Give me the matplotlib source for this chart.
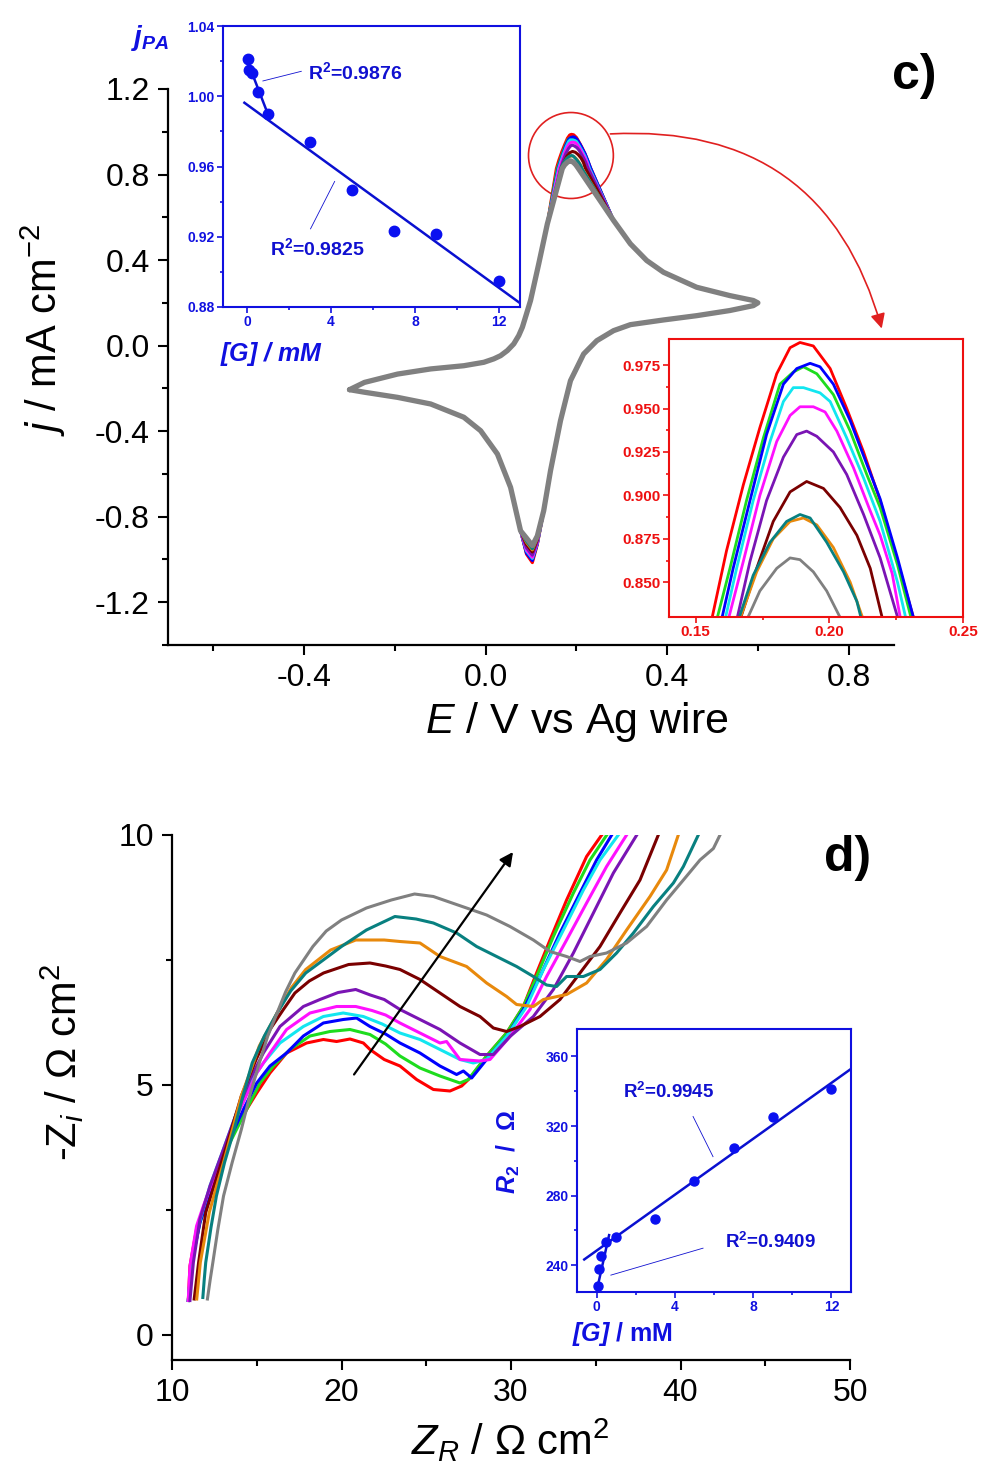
import matplotlib
matplotlib.use("Agg")
import matplotlib.pyplot as plt
from matplotlib.patches import Ellipse
from matplotlib.ticker import MultipleLocator, FormatStrFormatter

plt.rcParams['font.family'] = ['Liberation Sans', 'DejaVu Sans']
plt.rcParams['mathtext.fontset'] = 'custom'
plt.rcParams['mathtext.rm'] = 'Liberation Sans'
plt.rcParams['mathtext.it'] = 'Liberation Sans:italic'
plt.rcParams['mathtext.bf'] = 'Liberation Sans:bold'
plt.rcParams['mathtext.sf'] = 'Liberation Sans:bold:italic'
plt.rcParams['axes.unicode_minus'] = False

# ---------------- data ----------------
colors = ['#ff0000', '#1edc1e', '#0000ff', '#12e6f0', '#ff10ff',
          '#7a14b4', '#7a0000', '#e8890c', '#088080', '#808080']
conc = [0.05, 0.1, 0.25, 0.5, 1, 3, 5, 7, 9, 12]          # [G] / mM

# jPA inset
jpa = [1.021, 1.0149, 1.0134, 1.0026, 0.9898, 0.9737, 0.9465, 0.9232, 0.9214, 0.8948]
jpa_fit1_G = [-0.13, 12.99]
jpa_fit1_j = [0.9963, 0.8823]
jpa_fit2_G = [0.03, 1.0]
jpa_fit2_j = [1.0195, 0.9895]

# R2 inset
r2 = [227.9, 238.1, 245.2, 253.4, 256.1, 266.5, 288.6, 307.6, 325.3, 341.2]
r2_fit1_G = [-0.63, 12.98]
r2_fit1_R = [243.3, 352.7]
r2_fit2_G = [0.05, 0.64]
r2_fit2_R = [227.5, 257.3]

# CV, shared parts of the loop
cv_start_E = [-0.300, -0.267, -0.194, -0.121, -0.048, -0.004, 0.018, 0.033, 0.048, 0.062, 0.073, 0.081,
              0.090, 0.099, 0.117, 0.136]
cv_start_j = [-0.206, -0.172, -0.133, -0.109, -0.094, -0.078, -0.062, -0.047, -0.023, 0.008, 0.047, 0.086,
              0.148, 0.211, 0.382, 0.569]
cv_tail_E = [0.282, 0.319, 0.355, 0.392, 0.465, 0.538, 0.590, 0.600,
             0.590, 0.538, 0.465, 0.392, 0.319, 0.282, 0.245, 0.216, 0.187, 0.165, 0.143, 0.128]
cv_tail_j = [0.585, 0.476, 0.398, 0.343, 0.273, 0.234, 0.211, 0.200,
             0.187, 0.164, 0.140, 0.120, 0.098, 0.070, 0.023, -0.039, -0.164, -0.351, -0.585, -0.772]
cv_back_E = [0.077, 0.055, 0.026, -0.011, -0.048, -0.121, -0.194, -0.267, -0.300]
cv_back_j = [-0.866, -0.663, -0.507, -0.398, -0.335, -0.273, -0.242, -0.218, -0.206]

# CV anodic peak, one list per curve
peak_E = [
    [0.1559, 0.1615, 0.1678, 0.1740, 0.1803, 0.1853, 0.1890, 0.1940, 0.2003, 0.2065, 0.2128, 0.2190, 0.2255, 0.2314],
    [0.1578, 0.1628, 0.1690, 0.1753, 0.1815, 0.1865, 0.1903, 0.1953, 0.2015, 0.2078, 0.2140, 0.2190, 0.2255, 0.2305],
    [0.1596, 0.1640, 0.1703, 0.1765, 0.1828, 0.1878, 0.1928, 0.1965, 0.2015, 0.2078, 0.2140, 0.2190, 0.2255, 0.2314],
    [0.1609, 0.1653, 0.1715, 0.1778, 0.1828, 0.1865, 0.1903, 0.1965, 0.2003, 0.2065, 0.2128, 0.2190, 0.2255, 0.2285],
    [0.1621, 0.1678, 0.1740, 0.1803, 0.1853, 0.1890, 0.1940, 0.1984, 0.2028, 0.2090, 0.2153, 0.2190, 0.2235, 0.2265],
    [0.1653, 0.1703, 0.1765, 0.1828, 0.1878, 0.1915, 0.1953, 0.2015, 0.2065, 0.2128, 0.2190, 0.2255],
    [0.1665, 0.1728, 0.1790, 0.1853, 0.1915, 0.1978, 0.2040, 0.2103, 0.2153, 0.2197],
    [0.1663, 0.1728, 0.1790, 0.1853, 0.1903, 0.1953, 0.2015, 0.2078, 0.2128],
    [0.1659, 0.1715, 0.1778, 0.1840, 0.1890, 0.1928, 0.1990, 0.2053, 0.2103, 0.2121],
    [0.1690, 0.1740, 0.1803, 0.1853, 0.1890, 0.1940, 0.1990, 0.2046],
]
peak_j = [
    [0.828, 0.868, 0.906, 0.939, 0.970, 0.985, 0.988, 0.986, 0.973, 0.950, 0.925, 0.897, 0.862, 0.830],
    [0.828, 0.858, 0.897, 0.933, 0.964, 0.971, 0.974, 0.970, 0.958, 0.937, 0.912, 0.893, 0.860, 0.830],
    [0.828, 0.858, 0.897, 0.935, 0.964, 0.973, 0.976, 0.974, 0.964, 0.943, 0.918, 0.898, 0.864, 0.830],
    [0.828, 0.858, 0.897, 0.931, 0.954, 0.962, 0.962, 0.959, 0.954, 0.933, 0.910, 0.885, 0.850, 0.830],
    [0.828, 0.862, 0.900, 0.931, 0.946, 0.951, 0.951, 0.948, 0.937, 0.916, 0.891, 0.877, 0.855, 0.830],
    [0.828, 0.862, 0.897, 0.922, 0.935, 0.937, 0.934, 0.925, 0.912, 0.889, 0.864, 0.830],
    [0.828, 0.858, 0.885, 0.902, 0.908, 0.904, 0.893, 0.877, 0.858, 0.830],
    [0.828, 0.856, 0.875, 0.885, 0.887, 0.883, 0.870, 0.850, 0.828],
    [0.828, 0.854, 0.873, 0.885, 0.889, 0.887, 0.873, 0.856, 0.839, 0.828],
    [0.828, 0.845, 0.858, 0.864, 0.863, 0.856, 0.845, 0.828],
]
# CV cathodic peak, values at E = 0.114, 0.103, 0.090
cath_E = [0.114, 0.103, 0.090]
cath_j = [
    [-0.930, -1.015, -0.975],
    [-0.925, -1.000, -0.965],
    [-0.925, -1.005, -0.970],
    [-0.920, -0.995, -0.960],
    [-0.920, -0.990, -0.955],
    [-0.915, -0.980, -0.945],
    [-0.905, -0.965, -0.930],
    [-0.900, -0.955, -0.920],
    [-0.895, -0.950, -0.915],
    [-0.890, -0.935, -0.900],
]

# EIS (Nyquist), one list per curve
eis_Z = [
    [10.96, 11.06, 11.45, 12.04, 12.83, 13.62, 14.40, 15.00, 15.78, 16.76, 17.94, 18.93, 19.71, 20.50, 21.29, 21.68,
     22.52, 23.45, 24.43, 25.42, 26.40, 27.09, 27.58, 28.56, 29.74, 30.73, 31.51, 32.30, 33.28, 34.46, 35.35],
    [10.96, 11.16, 11.65, 12.44, 13.42, 14.40, 15.19, 15.98, 16.96, 18.14, 19.32, 20.50, 21.68, 22.60, 23.45, 24.63,
     25.81, 26.99, 27.48, 28.56, 29.74, 30.73, 31.51, 32.50, 33.68, 34.66, 35.65],
    [10.96, 11.16, 11.65, 12.44, 13.22, 14.21, 15.00, 15.78, 16.76, 17.75, 18.93, 20.10, 20.89, 21.68, 22.60, 23.45,
     24.63, 25.81, 26.79, 27.19, 27.68, 28.56, 29.74, 30.73, 31.71, 32.89, 34.07, 35.05, 35.94],
    [10.96, 11.16, 11.55, 12.24, 13.03, 13.81, 14.60, 15.39, 16.37, 17.75, 18.93, 20.10, 21.29, 22.40, 23.45, 24.63,
     25.81, 26.99, 27.78, 28.56, 29.74, 30.92, 31.91, 33.09, 34.27, 35.25, 36.33],
    [10.96, 11.06, 11.45, 11.85, 12.44, 13.22, 14.01, 15.00, 15.78, 16.76, 18.14, 19.71, 20.84, 21.80, 22.60, 23.45,
     24.63, 25.81, 26.20, 26.99, 28.17, 28.76, 29.94, 31.12, 32.10, 33.28, 34.46, 35.64, 36.82],
    [11.06, 11.26, 11.65, 12.24, 13.03, 13.81, 14.60, 15.39, 16.37, 17.75, 18.73, 19.80, 20.84, 21.70, 22.52, 23.45,
     24.63, 25.81, 26.99, 28.17, 28.96, 29.94, 31.32, 32.50, 33.68, 34.86, 36.04, 37.42],
    [11.31, 11.57, 11.99, 12.63, 13.22, 14.09, 14.95, 15.78, 16.55, 17.25, 18.10, 18.94, 20.42, 21.68, 22.60, 23.45,
     24.63, 25.81, 26.99, 28.17, 28.96, 29.74, 30.53, 31.71, 32.89, 34.07, 35.25, 36.43, 37.61, 38.69],
    [11.46, 11.67, 12.20, 12.63, 13.04, 13.60, 14.09, 14.65, 15.15, 16.20, 17.05, 17.89, 19.36, 20.84, 22.52, 23.45,
     24.63, 25.81, 27.38, 28.56, 29.74, 30.33, 31.32, 31.91, 33.28, 34.46, 35.64, 36.82, 38.20, 39.18, 39.87],
    [11.82, 11.90, 11.99, 12.30, 12.62, 13.10, 13.67, 14.20, 14.73, 15.45, 16.20, 17.00, 17.89, 20.00, 21.47, 23.15,
     24.40, 25.42, 26.79, 27.97, 29.15, 30.33, 31.32, 32.10, 32.69, 33.28, 34.27, 35.25, 36.23, 37.22, 38.40, 39.58,
     40.17, 41.05],
    [12.09, 12.25, 12.41, 12.70, 13.04, 13.55, 14.09, 14.60, 15.15, 15.65, 16.20, 16.70, 17.25, 18.31, 19.10, 20.00,
     21.47, 22.94, 24.31, 25.42, 27.38, 28.56, 29.94, 31.32, 32.30, 33.28, 34.07, 34.66, 35.64, 36.82, 38.00, 39.18,
     40.17, 41.15, 41.94, 42.33],
]
eis_Zi = [
    [0.69, 1.38, 2.12, 2.71, 3.51, 4.05, 4.51, 4.84, 5.24, 5.64, 5.84, 5.91, 5.87, 5.92, 5.84, 5.71,
     5.51, 5.38, 5.11, 4.91, 4.88, 4.98, 5.14, 5.58, 6.04, 6.57, 7.24, 7.90, 8.70, 9.57, 10.0],
    [0.69, 1.45, 2.25, 3.05, 3.85, 4.51, 5.04, 5.38, 5.71, 5.98, 6.07, 6.11, 6.01, 5.82, 5.58, 5.34,
     5.18, 5.04, 5.11, 5.58, 6.04, 6.57, 7.17, 7.97, 8.84, 9.50, 10.0],
    [0.69, 1.45, 2.25, 3.05, 3.78, 4.51, 5.04, 5.38, 5.64, 5.98, 6.24, 6.31, 6.34, 6.17, 6.02, 5.84,
     5.64, 5.38, 5.21, 5.28, 5.14, 5.51, 5.97, 6.51, 7.17, 8.04, 8.84, 9.50, 10.0],
    [0.69, 1.45, 2.18, 2.98, 3.71, 4.44, 5.04, 5.44, 5.84, 6.17, 6.37, 6.44, 6.37, 6.22, 6.04, 5.91,
     5.71, 5.51, 5.44, 5.51, 5.97, 6.57, 7.31, 8.10, 8.90, 9.50, 10.0],
    [0.69, 1.38, 2.18, 2.58, 3.11, 3.85, 4.51, 5.24, 5.64, 6.11, 6.44, 6.57, 6.57, 6.49, 6.40, 6.24,
     6.04, 5.84, 5.87, 5.51, 5.48, 5.51, 5.97, 6.51, 7.17, 7.90, 8.64, 9.37, 10.0],
    [0.69, 1.45, 2.32, 2.98, 3.71, 4.44, 5.11, 5.64, 6.17, 6.57, 6.71, 6.85, 6.91, 6.80, 6.71, 6.51,
     6.31, 6.11, 5.84, 5.61, 5.61, 5.97, 6.37, 6.91, 7.64, 8.44, 9.24, 10.0],
    [0.72, 1.45, 2.45, 3.15, 3.78, 4.78, 5.50, 6.11, 6.50, 6.84, 7.08, 7.24, 7.41, 7.44, 7.38, 7.31,
     7.11, 6.84, 6.57, 6.37, 6.14, 6.07, 6.17, 6.37, 6.71, 7.24, 7.77, 8.44, 9.10, 10.0],
    [0.72, 1.45, 2.45, 2.98, 3.45, 4.15, 4.78, 5.30, 5.78, 6.44, 6.95, 7.31, 7.70, 7.90, 7.90, 7.87,
     7.84, 7.57, 7.37, 7.04, 6.77, 6.61, 6.57, 6.71, 6.81, 7.04, 7.51, 8.10, 8.77, 9.30, 10.0],
    [0.75, 1.10, 1.45, 2.15, 2.78, 3.45, 4.11, 4.80, 5.44, 5.98, 6.44, 6.88, 7.24, 7.77, 8.10, 8.37,
     8.32, 8.24, 8.04, 7.77, 7.57, 7.37, 7.17, 7.00, 6.97, 7.17, 7.17, 7.31, 7.64, 8.04, 8.57, 9.04,
     9.37, 10.0],
    [0.72, 1.10, 1.45, 2.10, 2.78, 3.45, 4.11, 4.80, 5.44, 5.98, 6.44, 6.86, 7.24, 7.77, 8.08, 8.30,
     8.54, 8.70, 8.82, 8.77, 8.54, 8.40, 8.17, 7.90, 7.67, 7.57, 7.47, 7.57, 7.64, 7.84, 8.17, 8.70,
     9.10, 9.50, 9.73, 10.0],
]

# ---------------- layout helpers (figure pixels) ----------------
W, H = 981, 1472


def box(l, t, r, b):
    return [l / W, 1 - b / H, (r - l) / W, (b - t) / H]


def fxy(x, y):
    return x / W, 1 - y / H


def style_main(ax):
    for s in ['top', 'right']:
        ax.spines[s].set_visible(False)
    for s in ['left', 'bottom']:
        ax.spines[s].set_linewidth(1.6)
    ax.tick_params(which='both', direction='out', width=1.5, labelsize=23, pad=6)
    ax.tick_params(which='major', length=7)
    ax.tick_params(which='minor', length=4.5)


def style_inset(ax, col, size):
    for s in ax.spines.values():
        s.set_color(col)
        s.set_linewidth(1.5)
    ax.tick_params(which='both', direction='out', colors=col, width=1.2, labelsize=size, pad=2)
    ax.tick_params(which='major', length=4)
    ax.tick_params(which='minor', length=2.5)
    for lab in ax.get_xticklabels() + ax.get_yticklabels():
        lab.set_fontweight('bold')


fig = plt.figure(figsize=(W / 100, H / 100), dpi=100)

# ---------------- c) cyclic voltammograms ----------------
ax_c = fig.add_axes(box(168, 89, 894, 645))
for k in range(len(colors)):
    E = cv_start_E + peak_E[k] + cv_tail_E + cath_E + cv_back_E
    j = cv_start_j + peak_j[k] + cv_tail_j + cath_j[k] + cv_back_j
    lw = 3.8 if k == len(colors) - 1 else 2.2
    ax_c.plot(E, j, color=colors[k], lw=lw, solid_capstyle='round', solid_joinstyle='round')
ax_c.set_xlim(-0.7, 0.9)
ax_c.set_ylim(-1.4, 1.2)
ax_c.xaxis.set_major_locator(MultipleLocator(0.4))
ax_c.xaxis.set_minor_locator(MultipleLocator(0.2))
ax_c.yaxis.set_major_locator(MultipleLocator(0.4))
ax_c.yaxis.set_minor_locator(MultipleLocator(0.2))
ax_c.xaxis.set_major_formatter(FormatStrFormatter('%.1f'))
ax_c.yaxis.set_major_formatter(FormatStrFormatter('%.1f'))
style_main(ax_c)

ax_c.add_patch(Ellipse((0.188, 0.889), 0.187, 0.402, fill=False, ec='#e02020', lw=1.2))
ax_c.annotate('', xy=(0.873, 0.08), xytext=(0.275, 0.99),
              arrowprops=dict(arrowstyle='-|>', color='#e02020', lw=1.2, mutation_scale=22,
                              shrinkA=0, shrinkB=0, connectionstyle='arc3,rad=-0.4'))

fig.text(*fxy(577, 722), '$E$ / V vs Ag wire', fontsize=31, ha='center', va='center')
fig.text(*fxy(43, 330), '$j$ / mA cm$^{-2}$', fontsize=30, ha='center', va='center', rotation=90)
fig.text(*fxy(914, 76), 'c)', fontsize=36, fontweight='bold', ha='center', va='center')

# jPA inset
ax_j = fig.add_axes(box(223, 26, 520, 307))
ax_j.plot(jpa_fit1_G, jpa_fit1_j, color='#0a10d0', lw=1.8)
ax_j.plot(jpa_fit2_G, jpa_fit2_j, color='#0a10d0', lw=1.8)
ax_j.plot(conc, jpa, 'o', color='#0a10f0', ms=7.5, mec='#0a10f0')
ax_j.set_xlim(-1.15, 13)
ax_j.set_ylim(0.88, 1.04)
ax_j.set_xticks([0, 4, 8, 12])
ax_j.set_xticks([2, 6, 10], minor=True)
ax_j.set_yticks([0.88, 0.92, 0.96, 1.00, 1.04])
ax_j.set_yticks([0.90, 0.94, 0.98, 1.02], minor=True)
ax_j.yaxis.set_major_formatter(FormatStrFormatter('%.2f'))
style_inset(ax_j, '#1010e0', 10)
ax_j.text(2.9, 1.014, r'R$^\mathbf{2}$=0.9876', color='#1010d0', fontsize=14, fontweight='bold', va='center')
ax_j.plot([0.75, 2.58], [1.0087, 1.0142], color='#1010d0', lw=0.6)
ax_j.text(1.07, 0.9133, r'R$^\mathbf{2}$=0.9825', color='#1010d0', fontsize=14, fontweight='bold', va='center')
ax_j.plot([3.02, 4.17], [0.9245, 0.9515], color='#1010d0', lw=0.6)
fig.text(*fxy(272, 354), r'$\mathsf{[G]\ /\ mM}$', fontsize=18, color='#1010e0', ha='center', va='center')
fig.text(*fxy(150, 38), r'$\mathsf{j_{PA}}$', fontsize=20, color='#1010e0', ha='center', va='center')

# zoomed peak inset
ax_z = fig.add_axes(box(669, 339, 963, 617))
for k in range(len(colors)):
    E = cv_start_E + peak_E[k] + cv_tail_E
    j = cv_start_j + peak_j[k] + cv_tail_j
    ax_z.plot(E, j, color=colors[k], lw=2.0, solid_joinstyle='round')
ax_z.set_xlim(0.14, 0.25)
ax_z.set_ylim(0.83, 0.99)
ax_z.set_xticks([0.15, 0.20, 0.25])
ax_z.set_xticks([0.175, 0.225], minor=True)
ax_z.set_yticks([0.850, 0.875, 0.900, 0.925, 0.950, 0.975])
ax_z.set_yticks([0.8625, 0.8875, 0.9125, 0.9375, 0.9625], minor=True)
ax_z.xaxis.set_major_formatter(FormatStrFormatter('%.2f'))
ax_z.yaxis.set_major_formatter(FormatStrFormatter('%.3f'))
style_inset(ax_z, '#ee1010', 11)

# ---------------- d) Nyquist plots ----------------
ax_d = fig.add_axes(box(172, 835, 850, 1360))
for k in range(len(colors)):
    ax_d.plot(eis_Z[k], eis_Zi[k], color=colors[k], lw=2.2, solid_joinstyle='round')
ax_d.annotate('', xy=(30.12, 9.66), xytext=(20.74, 5.21),
              arrowprops=dict(arrowstyle='-|>', color='black', lw=1.6, mutation_scale=20, shrinkA=0, shrinkB=0))
ax_d.set_xlim(10, 50)
ax_d.set_ylim(-0.5, 10)
ax_d.xaxis.set_major_locator(MultipleLocator(10))
ax_d.xaxis.set_minor_locator(MultipleLocator(5))
ax_d.yaxis.set_major_locator(MultipleLocator(5))
ax_d.yaxis.set_minor_locator(MultipleLocator(2.5))
style_main(ax_d)
fig.text(*fxy(510, 1440), '$Z_R$ / \u03a9 cm$^2$', fontsize=30, ha='center', va='center')
fig.text(*fxy(62, 1062), '-Z$_i$ / \u03a9 cm$^2$', fontsize=30, ha='center', va='center', rotation=90)
fig.text(*fxy(848, 858), 'd)', fontsize=36, fontweight='bold', ha='center', va='center')

# R2 inset
ax_r = fig.add_axes(box(577, 1029, 851, 1292))
ax_r.plot(r2_fit1_G, r2_fit1_R, color='#0a10d0', lw=1.8)
ax_r.plot(r2_fit2_G, r2_fit2_R, color='#0a10d0', lw=1.8)
ax_r.plot(conc, r2, 'o', color='#0a10f0', ms=6.5)
ax_r.set_xlim(-1, 13)
ax_r.set_ylim(224.6, 375.8)
ax_r.set_xticks([0, 4, 8, 12])
ax_r.set_xticks([2, 6, 10], minor=True)
ax_r.set_yticks([240, 280, 320, 360])
ax_r.set_yticks([260, 300, 340], minor=True)
style_inset(ax_r, '#1010e0', 10)
ax_r.text(3.7, 339.8, r'R$^\mathbf{2}$=0.9945', color='#1010d0', fontsize=13.5, fontweight='bold',
          ha='center', va='center')
ax_r.plot([4.93, 5.95], [325.5, 302.4], color='#1010d0', lw=0.6)
ax_r.text(8.9, 253.5, r'R$^\mathbf{2}$=0.9409', color='#1010d0', fontsize=13.5, fontweight='bold',
          ha='center', va='center')
ax_r.plot([0.73, 5.44], [234.3, 249.8], color='#1010d0', lw=0.6)
fig.text(*fxy(622, 1334), r'$\mathsf{[G]}$ / mM', fontsize=18, fontweight='bold', color='#1010e0',
         ha='center', va='center')
fig.text(*fxy(508, 1152), '$\\mathsf{R}_\\mathbf{2}$  /  \u03a9', fontsize=18, fontweight='bold',
         color='#1010e0', ha='center', va='center', rotation=90)

fig.savefig('out.png', dpi=100)
